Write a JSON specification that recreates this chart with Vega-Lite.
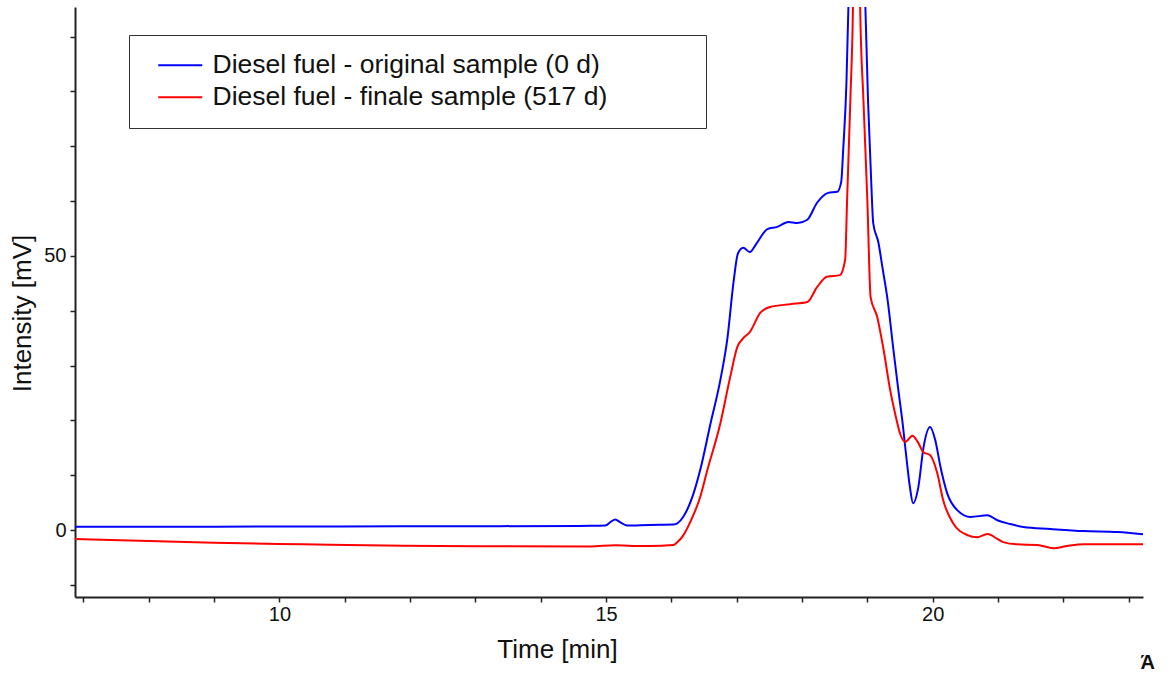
{
  "$schema": "https://vega.github.io/schema/vega-lite/v6.json",
  "width": 1068,
  "height": 590,
  "autosize": {"type": "none"},
  "padding": {"left": 75, "top": 7, "right": 29, "bottom": 78},
  "background": "white",
  "config": {"view": {"stroke": null}, "font": "Liberation Sans"},
  "title": {"text": "Ά", "orient": "bottom", "anchor": "end", "fontSize": 20, "fontWeight": "bold", "color": "#111", "font": "Liberation Sans", "offset": -9, "dx": 12},
  "data": {"values": [
    {"t": 6.87, "v": 0.6, "s": "Diesel fuel - original sample (0 d)"},
    {"t": 8.0, "v": 0.62, "s": "Diesel fuel - original sample (0 d)"},
    {"t": 10.0, "v": 0.65, "s": "Diesel fuel - original sample (0 d)"},
    {"t": 11.85, "v": 0.7, "s": "Diesel fuel - original sample (0 d)"},
    {"t": 13.38, "v": 0.72, "s": "Diesel fuel - original sample (0 d)"},
    {"t": 14.76, "v": 0.78, "s": "Diesel fuel - original sample (0 d)"},
    {"t": 14.99, "v": 0.85, "s": "Diesel fuel - original sample (0 d)"},
    {"t": 15.07, "v": 1.5, "s": "Diesel fuel - original sample (0 d)"},
    {"t": 15.14, "v": 1.95, "s": "Diesel fuel - original sample (0 d)"},
    {"t": 15.22, "v": 1.4, "s": "Diesel fuel - original sample (0 d)"},
    {"t": 15.32, "v": 0.85, "s": "Diesel fuel - original sample (0 d)"},
    {"t": 15.67, "v": 0.95, "s": "Diesel fuel - original sample (0 d)"},
    {"t": 16.03, "v": 1.0, "s": "Diesel fuel - original sample (0 d)"},
    {"t": 16.18, "v": 2.4, "s": "Diesel fuel - original sample (0 d)"},
    {"t": 16.32, "v": 6.0, "s": "Diesel fuel - original sample (0 d)"},
    {"t": 16.44, "v": 10.9, "s": "Diesel fuel - original sample (0 d)"},
    {"t": 16.6, "v": 19.5, "s": "Diesel fuel - original sample (0 d)"},
    {"t": 16.75, "v": 27.4, "s": "Diesel fuel - original sample (0 d)"},
    {"t": 16.86, "v": 35.2, "s": "Diesel fuel - original sample (0 d)"},
    {"t": 16.95, "v": 45.1, "s": "Diesel fuel - original sample (0 d)"},
    {"t": 17.02, "v": 50.5, "s": "Diesel fuel - original sample (0 d)"},
    {"t": 17.1, "v": 51.5, "s": "Diesel fuel - original sample (0 d)"},
    {"t": 17.2, "v": 50.7, "s": "Diesel fuel - original sample (0 d)"},
    {"t": 17.31, "v": 52.4, "s": "Diesel fuel - original sample (0 d)"},
    {"t": 17.47, "v": 54.9, "s": "Diesel fuel - original sample (0 d)"},
    {"t": 17.62, "v": 55.3, "s": "Diesel fuel - original sample (0 d)"},
    {"t": 17.79, "v": 56.2, "s": "Diesel fuel - original sample (0 d)"},
    {"t": 17.93, "v": 56.0, "s": "Diesel fuel - original sample (0 d)"},
    {"t": 18.08, "v": 56.6, "s": "Diesel fuel - original sample (0 d)"},
    {"t": 18.23, "v": 59.7, "s": "Diesel fuel - original sample (0 d)"},
    {"t": 18.4, "v": 61.5, "s": "Diesel fuel - original sample (0 d)"},
    {"t": 18.54, "v": 61.7, "s": "Diesel fuel - original sample (0 d)"},
    {"t": 18.6, "v": 63.5, "s": "Diesel fuel - original sample (0 d)"},
    {"t": 18.63, "v": 69.3, "s": "Diesel fuel - original sample (0 d)"},
    {"t": 18.68, "v": 81.6, "s": "Diesel fuel - original sample (0 d)"},
    {"t": 18.71, "v": 95.4, "s": "Diesel fuel - original sample (0 d)"},
    {"t": 18.84, "v": 180, "s": "Diesel fuel - original sample (0 d)"},
    {"t": 18.97, "v": 95.4, "s": "Diesel fuel - original sample (0 d)"},
    {"t": 19.01, "v": 78.5, "s": "Diesel fuel - original sample (0 d)"},
    {"t": 19.06, "v": 63.3, "s": "Diesel fuel - original sample (0 d)"},
    {"t": 19.09, "v": 56.0, "s": "Diesel fuel - original sample (0 d)"},
    {"t": 19.17, "v": 52.4, "s": "Diesel fuel - original sample (0 d)"},
    {"t": 19.23, "v": 48.0, "s": "Diesel fuel - original sample (0 d)"},
    {"t": 19.31, "v": 42.0, "s": "Diesel fuel - original sample (0 d)"},
    {"t": 19.4, "v": 32.8, "s": "Diesel fuel - original sample (0 d)"},
    {"t": 19.47, "v": 26.0, "s": "Diesel fuel - original sample (0 d)"},
    {"t": 19.54, "v": 19.5, "s": "Diesel fuel - original sample (0 d)"},
    {"t": 19.6, "v": 13.0, "s": "Diesel fuel - original sample (0 d)"},
    {"t": 19.65, "v": 8.0, "s": "Diesel fuel - original sample (0 d)"},
    {"t": 19.7, "v": 4.9, "s": "Diesel fuel - original sample (0 d)"},
    {"t": 19.78, "v": 7.8, "s": "Diesel fuel - original sample (0 d)"},
    {"t": 19.86, "v": 15.1, "s": "Diesel fuel - original sample (0 d)"},
    {"t": 19.96, "v": 18.8, "s": "Diesel fuel - original sample (0 d)"},
    {"t": 20.04, "v": 16.4, "s": "Diesel fuel - original sample (0 d)"},
    {"t": 20.12, "v": 11.5, "s": "Diesel fuel - original sample (0 d)"},
    {"t": 20.22, "v": 6.8, "s": "Diesel fuel - original sample (0 d)"},
    {"t": 20.38, "v": 3.6, "s": "Diesel fuel - original sample (0 d)"},
    {"t": 20.58, "v": 2.4, "s": "Diesel fuel - original sample (0 d)"},
    {"t": 20.84, "v": 2.7, "s": "Diesel fuel - original sample (0 d)"},
    {"t": 20.99, "v": 1.8, "s": "Diesel fuel - original sample (0 d)"},
    {"t": 21.19, "v": 1.1, "s": "Diesel fuel - original sample (0 d)"},
    {"t": 21.39, "v": 0.55, "s": "Diesel fuel - original sample (0 d)"},
    {"t": 21.8, "v": 0.2, "s": "Diesel fuel - original sample (0 d)"},
    {"t": 22.31, "v": -0.18, "s": "Diesel fuel - original sample (0 d)"},
    {"t": 22.83, "v": -0.36, "s": "Diesel fuel - original sample (0 d)"},
    {"t": 23.22, "v": -0.75, "s": "Diesel fuel - original sample (0 d)"},

    {"t": 6.87, "v": -1.64, "s": "Diesel fuel - finale sample (517 d)"},
    {"t": 8.0, "v": -2.0, "s": "Diesel fuel - finale sample (517 d)"},
    {"t": 9.0, "v": -2.3, "s": "Diesel fuel - finale sample (517 d)"},
    {"t": 10.36, "v": -2.6, "s": "Diesel fuel - finale sample (517 d)"},
    {"t": 11.89, "v": -2.87, "s": "Diesel fuel - finale sample (517 d)"},
    {"t": 13.0, "v": -2.95, "s": "Diesel fuel - finale sample (517 d)"},
    {"t": 14.76, "v": -2.97, "s": "Diesel fuel - finale sample (517 d)"},
    {"t": 15.14, "v": -2.75, "s": "Diesel fuel - finale sample (517 d)"},
    {"t": 15.4, "v": -2.9, "s": "Diesel fuel - finale sample (517 d)"},
    {"t": 15.67, "v": -2.9, "s": "Diesel fuel - finale sample (517 d)"},
    {"t": 16.03, "v": -2.7, "s": "Diesel fuel - finale sample (517 d)"},
    {"t": 16.09, "v": -2.2, "s": "Diesel fuel - finale sample (517 d)"},
    {"t": 16.18, "v": -1.0, "s": "Diesel fuel - finale sample (517 d)"},
    {"t": 16.29, "v": 1.5, "s": "Diesel fuel - finale sample (517 d)"},
    {"t": 16.44, "v": 6.0, "s": "Diesel fuel - finale sample (517 d)"},
    {"t": 16.55, "v": 10.9, "s": "Diesel fuel - finale sample (517 d)"},
    {"t": 16.75, "v": 19.5, "s": "Diesel fuel - finale sample (517 d)"},
    {"t": 16.9, "v": 27.9, "s": "Diesel fuel - finale sample (517 d)"},
    {"t": 17.01, "v": 33.4, "s": "Diesel fuel - finale sample (517 d)"},
    {"t": 17.1, "v": 35.0, "s": "Diesel fuel - finale sample (517 d)"},
    {"t": 17.2, "v": 36.1, "s": "Diesel fuel - finale sample (517 d)"},
    {"t": 17.36, "v": 39.6, "s": "Diesel fuel - finale sample (517 d)"},
    {"t": 17.51, "v": 40.7, "s": "Diesel fuel - finale sample (517 d)"},
    {"t": 17.82, "v": 41.2, "s": "Diesel fuel - finale sample (517 d)"},
    {"t": 18.08, "v": 41.6, "s": "Diesel fuel - finale sample (517 d)"},
    {"t": 18.23, "v": 44.3, "s": "Diesel fuel - finale sample (517 d)"},
    {"t": 18.38, "v": 46.2, "s": "Diesel fuel - finale sample (517 d)"},
    {"t": 18.58, "v": 46.5, "s": "Diesel fuel - finale sample (517 d)"},
    {"t": 18.66, "v": 49.3, "s": "Diesel fuel - finale sample (517 d)"},
    {"t": 18.69, "v": 60.2, "s": "Diesel fuel - finale sample (517 d)"},
    {"t": 18.74, "v": 78.5, "s": "Diesel fuel - finale sample (517 d)"},
    {"t": 18.78, "v": 95.4, "s": "Diesel fuel - finale sample (517 d)"},
    {"t": 18.84, "v": 170, "s": "Diesel fuel - finale sample (517 d)"},
    {"t": 18.89, "v": 95.4, "s": "Diesel fuel - finale sample (517 d)"},
    {"t": 18.94, "v": 78.5, "s": "Diesel fuel - finale sample (517 d)"},
    {"t": 19.0, "v": 60.2, "s": "Diesel fuel - finale sample (517 d)"},
    {"t": 19.05, "v": 42.5, "s": "Diesel fuel - finale sample (517 d)"},
    {"t": 19.15, "v": 38.9, "s": "Diesel fuel - finale sample (517 d)"},
    {"t": 19.25, "v": 32.8, "s": "Diesel fuel - finale sample (517 d)"},
    {"t": 19.35, "v": 25.5, "s": "Diesel fuel - finale sample (517 d)"},
    {"t": 19.43, "v": 21.0, "s": "Diesel fuel - finale sample (517 d)"},
    {"t": 19.51, "v": 17.3, "s": "Diesel fuel - finale sample (517 d)"},
    {"t": 19.58, "v": 16.1, "s": "Diesel fuel - finale sample (517 d)"},
    {"t": 19.69, "v": 17.2, "s": "Diesel fuel - finale sample (517 d)"},
    {"t": 19.77, "v": 16.1, "s": "Diesel fuel - finale sample (517 d)"},
    {"t": 19.86, "v": 14.2, "s": "Diesel fuel - finale sample (517 d)"},
    {"t": 19.96, "v": 13.7, "s": "Diesel fuel - finale sample (517 d)"},
    {"t": 20.07, "v": 10.4, "s": "Diesel fuel - finale sample (517 d)"},
    {"t": 20.16, "v": 5.5, "s": "Diesel fuel - finale sample (517 d)"},
    {"t": 20.31, "v": 1.3, "s": "Diesel fuel - finale sample (517 d)"},
    {"t": 20.53, "v": -0.9, "s": "Diesel fuel - finale sample (517 d)"},
    {"t": 20.68, "v": -1.3, "s": "Diesel fuel - finale sample (517 d)"},
    {"t": 20.84, "v": -0.7, "s": "Diesel fuel - finale sample (517 d)"},
    {"t": 20.99, "v": -1.6, "s": "Diesel fuel - finale sample (517 d)"},
    {"t": 21.08, "v": -2.2, "s": "Diesel fuel - finale sample (517 d)"},
    {"t": 21.29, "v": -2.6, "s": "Diesel fuel - finale sample (517 d)"},
    {"t": 21.6, "v": -2.7, "s": "Diesel fuel - finale sample (517 d)"},
    {"t": 21.85, "v": -3.3, "s": "Diesel fuel - finale sample (517 d)"},
    {"t": 22.06, "v": -2.9, "s": "Diesel fuel - finale sample (517 d)"},
    {"t": 22.31, "v": -2.6, "s": "Diesel fuel - finale sample (517 d)"},
    {"t": 23.22, "v": -2.6, "s": "Diesel fuel - finale sample (517 d)"}
  ]},
  "mark": {"type": "line", "clip": true, "strokeWidth": 2, "interpolate": "monotone"},
  "encoding": {
    "x": {
      "field": "t", "type": "quantitative",
      "scale": {"domain": [6.87, 23.22], "nice": false, "zero": false},
      "axis": {
        "title": "Time [min]",
        "values": [7, 8, 9, 10, 11, 12, 13, 14, 15, 16, 17, 18, 19, 20, 21, 22, 23],
        "labelExpr": "datum.value % 5 === 0 ? datum.label : ''",
        "grid": false, "labelFlush": false, "labelOverlap": false,
        "domainColor": "#222", "domainWidth": 2,
        "tickColor": "#222", "tickWidth": 1.5, "tickSize": 5,
        "labelFontSize": 20, "labelColor": "#111", "labelPadding": 2,
        "titleFontSize": 26, "titleFontWeight": "normal", "titleColor": "#111",
        "titleX": 482, "titleY": 60, "titleBaseline": "alphabetic", "titleAlign": "center"
      }
    },
    "y": {
      "field": "v", "type": "quantitative",
      "scale": {"domain": [-12.2, 95.4], "nice": false, "zero": false},
      "axis": {
        "title": "Intensity [mV]",
        "values": [-10, 0, 10, 20, 30, 40, 50, 60, 70, 80, 90],
        "labelExpr": "datum.value === 0 || datum.value === 50 ? datum.label : ''",
        "grid": false, "labelFlush": false, "labelOverlap": false,
        "domainColor": "#222", "domainWidth": 2,
        "tickColor": "#222", "tickWidth": 1.5, "tickSize": 5,
        "labelFontSize": 20, "labelColor": "#111", "labelPadding": 4,
        "titleFontSize": 26, "titleFontWeight": "normal", "titleColor": "#111",
        "titleX": -44.5, "titleY": 306, "titleBaseline": "alphabetic", "titleAngle": -90, "titleAlign": "center"
      }
    },
    "color": {
      "field": "s", "type": "nominal",
      "scale": {
        "domain": ["Diesel fuel - original sample (0 d)", "Diesel fuel - finale sample (517 d)"],
        "range": ["#0000ff", "#ff0000"]
      },
      "legend": {
        "title": null, "orient": "none", "legendX": 54, "legendY": 28,
        "symbolType": "M-2,0H2", "symbolSize": 484, "symbolStrokeWidth": 2,
        "symbolOffset": 21, "labelOffset": 19,
        "labelFontSize": 26.5, "labelColor": "#111", "labelLimit": 0,
        "labelExpr": "datum.label + '\u00a0\u00a0\u00a0\u00a0\u00a0\u00a0\u00a0\u00a0\u00a0\u00a0\u00a0\u200b'",
        "padding": 17, "rowPadding": 5,
        "strokeColor": "#333", "fillColor": "white"
      }
    }
  }
}
